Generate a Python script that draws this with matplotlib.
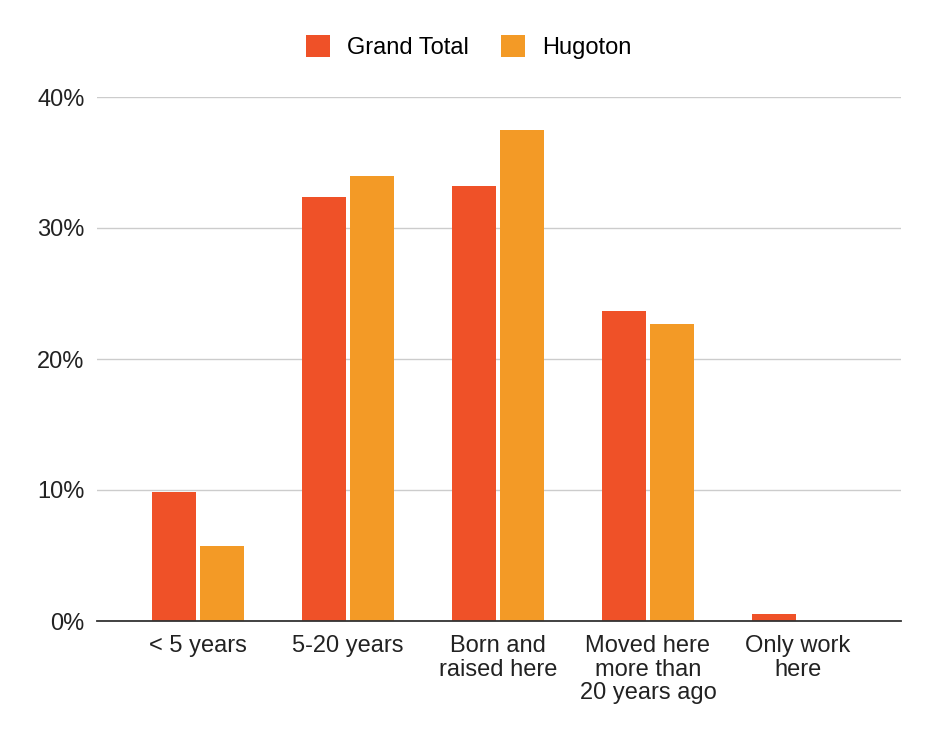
import matplotlib.pyplot as plt
import numpy as np

plt.rcParams['font.family'] = ['Liberation Sans', 'DejaVu Sans']

categories = ['< 5 years', '5-20 years', 'Born and\nraised here',
              'Moved here\nmore than\n20 years ago', 'Only work\nhere']
grand_total = [9.85, 32.4, 33.2, 23.7, 0.5]
hugoton = [5.7, 34.0, 37.5, 22.7, 0.0]
yticks = [0, 10, 20, 30, 40]
ytick_labels = ['0%', '10%', '20%', '30%', '40%']

c_gt = '#ef5128'
c_hu = '#f39a26'

fig = plt.figure(figsize=(9.37, 7.42), dpi=100)
ax = fig.add_axes([97/937, 1 - 621/742, 804/937, (621-97)/742])

x = np.arange(len(categories))
w = 0.293
off = 0.16
ax.bar(x - off, grand_total, w, color=c_gt, label='Grand Total', zorder=3)
ax.bar(x + off, hugoton, w, color=c_hu, label='Hugoton', zorder=3)

ax.set_ylim(0, 40)
ax.set_xlim(-0.673, 4.687)
ax.set_yticks(yticks)
ax.set_yticklabels(ytick_labels, fontsize=17, color='#222222')
ax.set_xticks(x)
ax.set_xticklabels(categories, fontsize=17, color='#222222', linespacing=1.1)
ax.tick_params(length=0)
ax.tick_params(axis='x', pad=10)
ax.tick_params(axis='y', pad=9)
ax.grid(axis='y', color='#cccccc', linewidth=1, zorder=0)
for s in ['top', 'right', 'left']:
    ax.spines[s].set_visible(False)
ax.spines['bottom'].set_color('#333333')
ax.spines['bottom'].set_linewidth(1.3)
ax.spines['bottom'].set_zorder(4)

# legend
fig.legend(loc='center', bbox_to_anchor=(0.5, 1 - 47/742), ncol=2, frameon=False,
           fontsize=17, handlelength=1.05, handleheight=1.05, columnspacing=1.35,
           handletextpad=0.7)

fig.savefig('out.png', dpi=100)
